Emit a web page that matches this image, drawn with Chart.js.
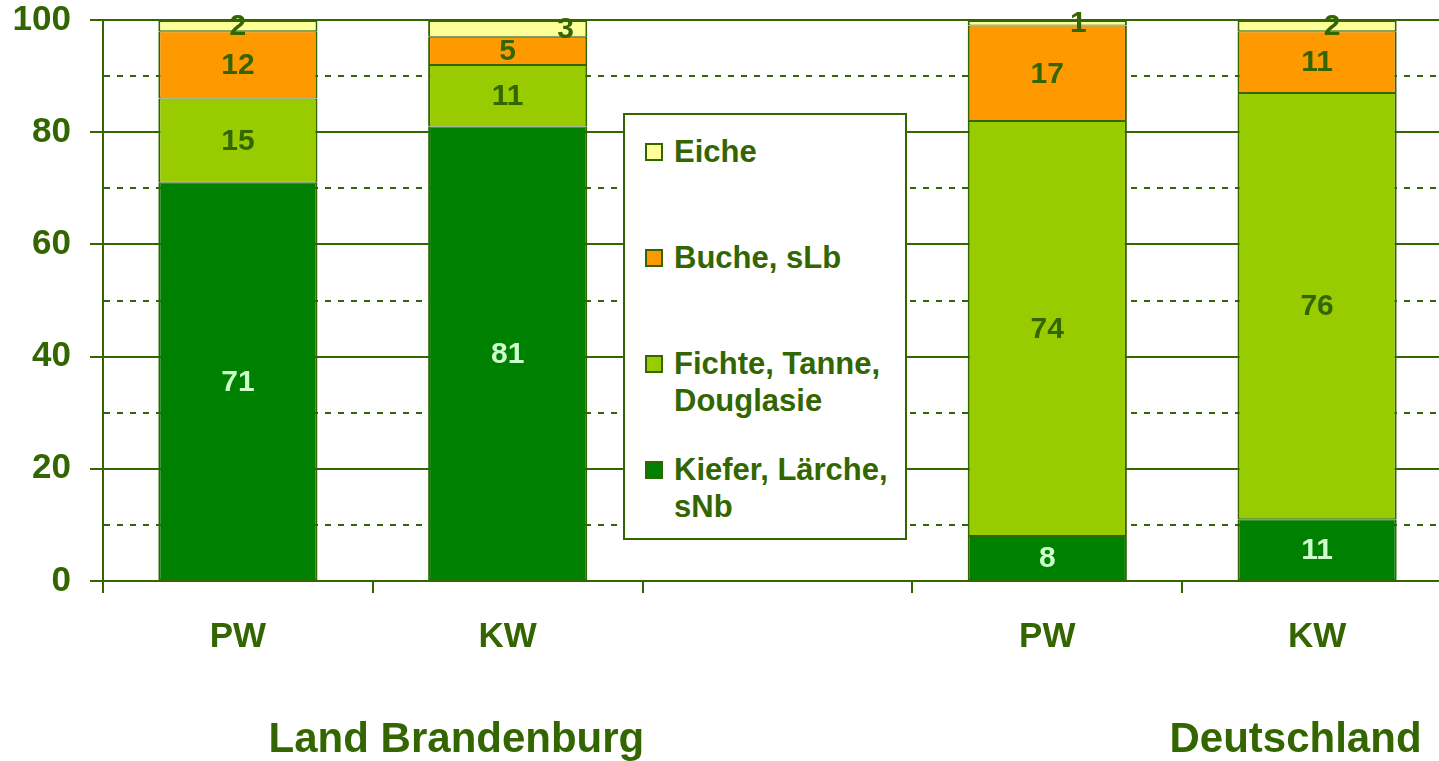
<!DOCTYPE html>
<html lang="de">
<head>
<meta charset="utf-8">
<title>Baumartenanteile PW / KW</title>
<script src="https://cdn.jsdelivr.net/npm/chart.js@4.4.1/dist/chart.umd.min.js"></script>
<style>
  html, body { margin: 0; padding: 0; background: #fff; overflow: hidden; }
  body { font-family: "Liberation Sans", Arial, sans-serif; }
  #wrap { position: relative; width: 1452px; height: 761px; }
  #legend {
    position: absolute; left: 623px; top: 113px; width: 280px; height: 423px;
    border: 2px solid #336600; background: #fff;
  }
  .item { position: absolute; left: 20px; width: 250px; }
  .swatch {
    position: absolute; left: 0; top: 10px; width: 14px; height: 14px;
    border: 2px solid #336600;
  }
  .label {
    position: absolute; left: 29px; width: 225px;
    font: bold 31px "Liberation Sans", Arial, sans-serif; line-height: 37px;
    color: #336600;
  }
</style>
</head>
<body>
<div id="wrap">
  <canvas id="chart"></canvas>
  <div id="legend"></div>
</div>
<script>
// Baumartenanteile: Privatwald (PW) / Körperschaftswald (KW)

const categories = ['PW', 'KW', '', 'PW', 'KW'];
const groupLabels = ['Land Brandenburg', 'Deutschland'];

const kiefer = [71, 81, null, 8, 11];
const fichte = [15, 11, null, 74, 76];
const buche = [12, 5, null, 17, 11];
const eiche = [2, 3, null, 1, 2];

const yTicks = [0, 20, 40, 60, 80, 100];

const GREEN = '#336600';
const FONT = "'Liberation Sans', Arial, sans-serif";

// Eiche labels were nudged sideways in the original
const eicheShift = [0, 58, 0, 31, 15];

// Data labels inside the bar segments
const segmentLabels = {
  id: 'segmentLabels',
  afterDatasetsDraw(chart) {
    const ctx = chart.ctx;
    ctx.save();
    ctx.font = 'bold 30px ' + FONT;
    ctx.textAlign = 'center';
    ctx.textBaseline = 'middle';
    chart.data.datasets.forEach((ds, di) => {
      const meta = chart.getDatasetMeta(di);
      meta.data.forEach((bar, i) => {
        const v = ds.data[i];
        if (v == null) return;
        const shift = ds.label === 'Eiche' ? eicheShift[i] : 0;
        ctx.fillStyle = ds.labelColor;
        ctx.fillText(String(v), bar.x + shift, (bar.y + bar.base) / 2 + 1);
      });
    });
    ctx.restore();
  }
};

// Group captions under the category labels
const groupCaptions = {
  id: 'groupCaptions',
  afterDraw(chart) {
    const x = chart.scales.x;
    const ctx = chart.ctx;
    const anchors = [0.81, 3.92];
    ctx.save();
    ctx.font = 'bold 42px ' + FONT;
    ctx.fillStyle = GREEN;
    ctx.textAlign = 'center';
    ctx.textBaseline = 'middle';
    groupLabels.forEach((g, i) => {
      ctx.fillText(g, x.getPixelForValue(anchors[i]), 740);
    });
    ctx.restore();
  }
};

const datasets = [
  { label: 'Kiefer, Lärche, sNb', data: kiefer, backgroundColor: '#008000', labelColor: '#CCFFCC' },
  { label: 'Fichte, Tanne, Douglasie', data: fichte, backgroundColor: '#99CC00', labelColor: GREEN },
  { label: 'Buche, sLb', data: buche, backgroundColor: '#FF9900', labelColor: GREEN },
  { label: 'Eiche', data: eiche, backgroundColor: '#FFFF99', labelColor: GREEN },
].map((d, i, arr) => Object.assign(d, {
  borderColor: GREEN,
  // shared edges between stacked segments add up to ~2px
  borderWidth: { top: i === arr.length - 1 ? 2 : 1, bottom: 1, left: 2, right: 2 },
  borderSkipped: false,
  inflateAmount: 0,
  barPercentage: 0.59,
  categoryPercentage: 1,
}));

const chart = new Chart(document.getElementById('chart'), {
  type: 'bar',
  data: { labels: categories, datasets: datasets },
  options: {
    responsive: true,
    maintainAspectRatio: false,
    animation: false,
    layout: { padding: { top: 20, left: 0, right: 0, bottom: 0 } },
    plugins: {
      legend: { display: false },
      tooltip: { enabled: false },
    },
    scales: {
      x: {
        stacked: true,
        grid: {
          offset: true,
          drawOnChartArea: false,
          drawTicks: true,
          tickLength: 12,
          color: GREEN,
          lineWidth: 2,
        },
        border: { color: GREEN, width: 2 },
        ticks: {
          autoSkip: false,
          maxRotation: 0,
          padding: 23,
          color: GREEN,
          font: { family: FONT, size: 35, weight: 'bold' },
        },
        afterFit: (scale) => {
          scale.height = 180;
          scale.paddingLeft = 0;
          scale.paddingRight = 0;
        },
      },
      y: {
        stacked: true,
        min: 0,
        max: 100,
        ticks: {
          stepSize: 10,
          padding: 19,
          color: GREEN,
          font: { family: FONT, size: 35, weight: 'bold' },
          callback: (value) => yTicks.includes(value) ? value : '',
        },
        grid: {
          color: GREEN,
          lineWidth: 2,
          tickLength: 13,
          tickColor: (ctx) => ctx.tick && ctx.tick.value % 20 === 0 ? GREEN : 'rgba(0,0,0,0)',
        },
        border: {
          color: GREEN,
          width: 2,
          dash: (ctx) => ctx.tick && ctx.tick.value % 20 !== 0 ? [6, 7] : [],
        },
        afterFit: (scale) => {
          scale.width = 103;
          scale.paddingTop = 0;
          scale.paddingBottom = 0;
        },
      },
    },
  },
  plugins: [segmentLabels, groupCaptions],
});

// HTML legend, top entry = top segment
const legendEl = document.getElementById('legend');
chart.data.datasets.slice().reverse().forEach((ds, i) => {
  const item = document.createElement('div');
  item.className = 'item';
  item.style.top = (18 + i * 106) + 'px';
  const sw = document.createElement('span');
  sw.className = 'swatch';
  sw.style.background = ds.backgroundColor;
  const lab = document.createElement('span');
  lab.className = 'label';
  lab.textContent = ds.label;
  item.appendChild(sw);
  item.appendChild(lab);
  legendEl.appendChild(item);
});
</script>
</body>
</html>
